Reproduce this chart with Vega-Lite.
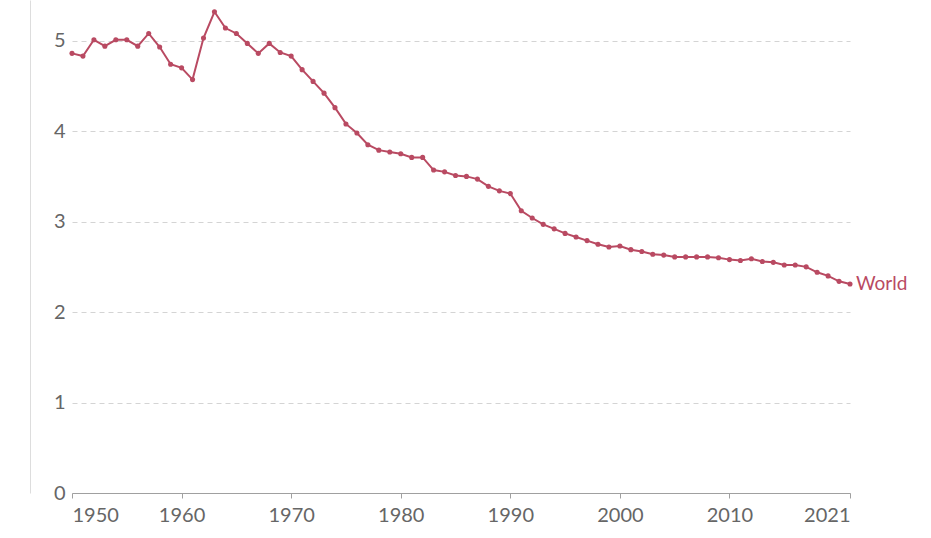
{
  "$schema": "https://vega.github.io/schema/vega-lite/v6.json",
  "autosize": "none",
  "width": 778,
  "height": 493,
  "padding": {"left": 72, "top": 0, "right": 81, "bottom": 45},
  "background": "white",
  "data": {
    "values": [
      {"Year": 1950, "Fertility": 4.86, "Entity": "World"},
      {"Year": 1951, "Fertility": 4.83, "Entity": "World"},
      {"Year": 1952, "Fertility": 5.01, "Entity": "World"},
      {"Year": 1953, "Fertility": 4.94, "Entity": "World"},
      {"Year": 1954, "Fertility": 5.01, "Entity": "World"},
      {"Year": 1955, "Fertility": 5.01, "Entity": "World"},
      {"Year": 1956, "Fertility": 4.94, "Entity": "World"},
      {"Year": 1957, "Fertility": 5.08, "Entity": "World"},
      {"Year": 1958, "Fertility": 4.93, "Entity": "World"},
      {"Year": 1959, "Fertility": 4.74, "Entity": "World"},
      {"Year": 1960, "Fertility": 4.70, "Entity": "World"},
      {"Year": 1961, "Fertility": 4.57, "Entity": "World"},
      {"Year": 1962, "Fertility": 5.03, "Entity": "World"},
      {"Year": 1963, "Fertility": 5.32, "Entity": "World"},
      {"Year": 1964, "Fertility": 5.14, "Entity": "World"},
      {"Year": 1965, "Fertility": 5.08, "Entity": "World"},
      {"Year": 1966, "Fertility": 4.97, "Entity": "World"},
      {"Year": 1967, "Fertility": 4.86, "Entity": "World"},
      {"Year": 1968, "Fertility": 4.97, "Entity": "World"},
      {"Year": 1969, "Fertility": 4.87, "Entity": "World"},
      {"Year": 1970, "Fertility": 4.83, "Entity": "World"},
      {"Year": 1971, "Fertility": 4.68, "Entity": "World"},
      {"Year": 1972, "Fertility": 4.55, "Entity": "World"},
      {"Year": 1973, "Fertility": 4.42, "Entity": "World"},
      {"Year": 1974, "Fertility": 4.26, "Entity": "World"},
      {"Year": 1975, "Fertility": 4.08, "Entity": "World"},
      {"Year": 1976, "Fertility": 3.98, "Entity": "World"},
      {"Year": 1977, "Fertility": 3.85, "Entity": "World"},
      {"Year": 1978, "Fertility": 3.79, "Entity": "World"},
      {"Year": 1979, "Fertility": 3.77, "Entity": "World"},
      {"Year": 1980, "Fertility": 3.75, "Entity": "World"},
      {"Year": 1981, "Fertility": 3.71, "Entity": "World"},
      {"Year": 1982, "Fertility": 3.71, "Entity": "World"},
      {"Year": 1983, "Fertility": 3.57, "Entity": "World"},
      {"Year": 1984, "Fertility": 3.55, "Entity": "World"},
      {"Year": 1985, "Fertility": 3.51, "Entity": "World"},
      {"Year": 1986, "Fertility": 3.50, "Entity": "World"},
      {"Year": 1987, "Fertility": 3.47, "Entity": "World"},
      {"Year": 1988, "Fertility": 3.39, "Entity": "World"},
      {"Year": 1989, "Fertility": 3.34, "Entity": "World"},
      {"Year": 1990, "Fertility": 3.31, "Entity": "World"},
      {"Year": 1991, "Fertility": 3.12, "Entity": "World"},
      {"Year": 1992, "Fertility": 3.04, "Entity": "World"},
      {"Year": 1993, "Fertility": 2.97, "Entity": "World"},
      {"Year": 1994, "Fertility": 2.92, "Entity": "World"},
      {"Year": 1995, "Fertility": 2.87, "Entity": "World"},
      {"Year": 1996, "Fertility": 2.83, "Entity": "World"},
      {"Year": 1997, "Fertility": 2.79, "Entity": "World"},
      {"Year": 1998, "Fertility": 2.75, "Entity": "World"},
      {"Year": 1999, "Fertility": 2.72, "Entity": "World"},
      {"Year": 2000, "Fertility": 2.73, "Entity": "World"},
      {"Year": 2001, "Fertility": 2.69, "Entity": "World"},
      {"Year": 2002, "Fertility": 2.67, "Entity": "World"},
      {"Year": 2003, "Fertility": 2.64, "Entity": "World"},
      {"Year": 2004, "Fertility": 2.63, "Entity": "World"},
      {"Year": 2005, "Fertility": 2.61, "Entity": "World"},
      {"Year": 2006, "Fertility": 2.61, "Entity": "World"},
      {"Year": 2007, "Fertility": 2.61, "Entity": "World"},
      {"Year": 2008, "Fertility": 2.61, "Entity": "World"},
      {"Year": 2009, "Fertility": 2.60, "Entity": "World"},
      {"Year": 2010, "Fertility": 2.58, "Entity": "World"},
      {"Year": 2011, "Fertility": 2.57, "Entity": "World"},
      {"Year": 2012, "Fertility": 2.59, "Entity": "World"},
      {"Year": 2013, "Fertility": 2.56, "Entity": "World"},
      {"Year": 2014, "Fertility": 2.55, "Entity": "World"},
      {"Year": 2015, "Fertility": 2.52, "Entity": "World"},
      {"Year": 2016, "Fertility": 2.52, "Entity": "World"},
      {"Year": 2017, "Fertility": 2.50, "Entity": "World"},
      {"Year": 2018, "Fertility": 2.44, "Entity": "World"},
      {"Year": 2019, "Fertility": 2.40, "Entity": "World"},
      {"Year": 2020, "Fertility": 2.34, "Entity": "World"},
      {"Year": 2021, "Fertility": 2.31, "Entity": "World"}
    ]
  },
  "encoding": {
    "x": {
      "field": "Year",
      "type": "quantitative",
      "scale": {"domain": [1950, 2021], "nice": false, "zero": false},
      "axis": {
        "title": null,
        "values": [1950, 1960, 1970, 1980, 1990, 2000, 2010, 2021],
        "format": "d",
        "grid": false,
        "labelFlush": true,
        "domainColor": "#a0a0a0",
        "domainWidth": 1.2,
        "tickColor": "#a0a0a0",
        "tickSize": 5,
        "labelPadding": 7,
        "labelFontSize": 20,
        "labelColor": "#666666",
        "labelFont": "Lato"
      }
    },
    "y": {
      "field": "Fertility",
      "type": "quantitative",
      "scale": {"domain": [0, 5.45], "nice": false},
      "axis": {
        "title": null,
        "values": [0, 1, 2, 3, 4, 5],
        "offset": 42,
        "domain": true,
        "domainColor": "#dddddd",
        "ticks": false,
        "tickSize": 0,
        "labelPadding": -35,
        "labelFontSize": 20,
        "labelColor": "#666666",
        "labelFont": "Lato",
        "grid": true,
        "gridColor": "#d4d4d4",
        "gridDash": [5, 4]
      }
    }
  },
  "layer": [
    {
      "mark": {"type": "line", "color": "#b94a62", "strokeWidth": 2},
      "encoding": {}
    },
    {
      "mark": {"type": "circle", "color": "#b94a62", "size": 26, "opacity": 1},
      "encoding": {}
    },
    {
      "transform": [{"filter": "datum.Year == 2021"}],
      "mark": {
        "type": "text",
        "align": "left",
        "baseline": "middle",
        "dx": 6,
        "font": "Lato",
        "fontSize": 19,
        "color": "#b94a62"
      },
      "encoding": {"text": {"field": "Entity"}}
    }
  ],
  "config": {
    "view": {"stroke": null}
  }
}
